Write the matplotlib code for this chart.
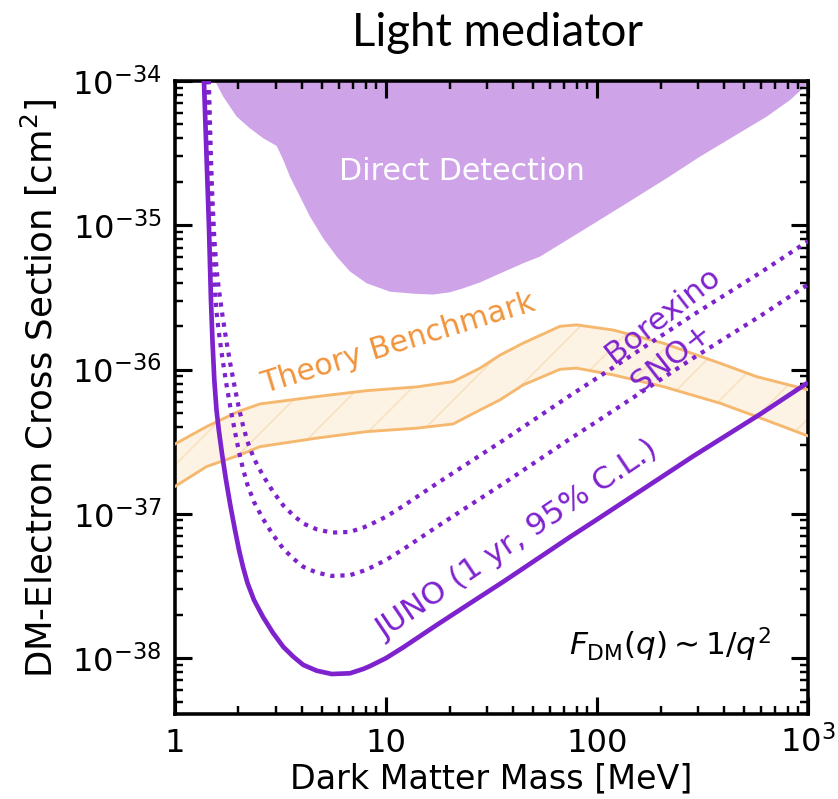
import numpy as np
import matplotlib
matplotlib.use("Agg")
import matplotlib.pyplot as plt
from matplotlib.ticker import FixedLocator, FixedFormatter, LogLocator, NullFormatter

# ---------------- data (log10 of cross section in cm^2) ----------------
mass = [1.365, 1.413, 1.449, 1.481, 1.505, 1.536, 1.573, 1.613, 1.674, 1.745, 1.828,
        1.925, 2.011, 2.101, 2.206, 2.368, 2.612, 2.914, 3.262, 3.637, 4.056, 4.695,
        5.53, 6.75, 7.80, 8.40, 10.0, 12.08, 17.4, 25.0, 36.0, 51.8, 74.5, 99.7,
        286, 592, 1000]
juno_log = [-33.90, -34.547, -35.01, -35.518, -35.795, -36.072, -36.28, -36.419,
            -36.592, -36.765, -36.938, -37.112, -37.25, -37.368, -37.479, -37.597,
            -37.714, -37.825, -37.922, -37.99, -38.047, -38.087, -38.11, -38.105,
            -38.075, -38.055, -38.00, -37.925, -37.77, -37.62, -37.47, -37.315,
            -37.16, -37.04, -36.60, -36.31, -36.09]
borexino_log = [-32.92, -33.567, -34.03, -34.538, -34.815, -35.092, -35.30, -35.439,
                -35.612, -35.785, -35.958, -36.132, -36.27, -36.388, -36.499, -36.617,
                -36.734, -36.845, -36.942, -37.01, -37.067, -37.107, -37.13, -37.125,
                -37.095, -37.075, -37.02, -36.945, -36.79, -36.64, -36.49, -36.335,
                -36.18, -36.06, -35.62, -35.33, -35.11]
snoplus_log = [-33.22, -33.867, -34.33, -34.838, -35.115, -35.392, -35.60, -35.739,
               -35.912, -36.085, -36.258, -36.432, -36.57, -36.688, -36.799, -36.917,
               -37.034, -37.145, -37.242, -37.31, -37.367, -37.407, -37.43, -37.425,
               -37.395, -37.375, -37.32, -37.245, -37.09, -36.94, -36.79, -36.635,
               -36.48, -36.36, -35.92, -35.63, -35.41]

dd_mass = [1.548, 1.694, 1.961, 2.267, 2.621, 3.034, 3.26, 3.508, 3.91, 4.364, 5.04,
           5.84, 6.75, 8.10, 10.45, 13.5, 16.7, 20.0, 23.2, 28.0, 33.5, 44.7, 53.7,
           86.1, 138, 214, 307, 442, 637, 822, 947, 1000]
dd_log = [-34.0, -34.109, -34.247, -34.328, -34.397, -34.45, -34.547, -34.663, -34.80,
          -34.94, -35.09, -35.217, -35.32, -35.402, -35.46, -35.474, -35.48, -35.465,
          -35.437, -35.395, -35.344, -35.263, -35.217, -35.033, -34.848, -34.674,
          -34.525, -34.386, -34.247, -34.132, -34.05, -34.02]

tb_mass = [1, 1.413, 2.0, 2.53, 4.70, 8.10, 14.0, 20.8, 27.9, 34.7, 44.6, 66.8, 80.1,
           119.5, 206, 383, 571, 1000]
tb_low_log = [-36.81, -36.672, -36.595, -36.534, -36.475, -36.43, -36.406, -36.377,
              -36.28, -36.21, -36.107, -35.998, -35.99, -36.037, -36.118, -36.233,
              -36.326, -36.46]
tb_high_log = [-36.516, -36.395, -36.29, -36.238, -36.187, -36.146, -36.12, -36.083,
               -35.99, -35.90, -35.817, -35.70, -35.69, -35.726, -35.817, -35.956,
               -36.049, -36.14]

x_ticks = [1, 10, 100, 1000]
x_tick_labels = ["1", "10", "100", r"$10^3$"]
y_ticks = [1e-38, 1e-37, 1e-36, 1e-35, 1e-34]

# ---------------- styling ----------------
purple = "#7E22CE"
dd_color = "#CFA3E8"
tb_edge = "#F5B86E"
tb_fill = "#FDF3E4"
tb_hatch = "#F8E2C4"
tb_text = "#F0943C"


def pw(v):
    return 10.0 ** np.asarray(v)


fig = plt.figure(figsize=(838 / 160, 799 / 160), dpi=160)
ax = fig.add_axes([0.2088, 0.1064, 0.7554, 0.7922])
ax.set_xscale("log")
ax.set_yscale("log")
ax.set_xlim(1, 1000)
ax.set_ylim(10 ** -38.387, 1e-34)

# direct detection exclusion
ax.fill_between(dd_mass, pw(dd_log), 1e-33, facecolor=dd_color, edgecolor="none",
                lw=0, zorder=1)

# theory benchmark band
plt.rcParams["hatch.linewidth"] = 0.8
ax.fill_between(tb_mass, pw(tb_low_log), pw(tb_high_log), facecolor=tb_fill,
                edgecolor=tb_hatch, hatch="/", lw=0, zorder=2)
ax.plot(tb_mass, pw(tb_low_log), color=tb_edge, lw=1.3, zorder=3)
ax.plot(tb_mass, pw(tb_high_log), color=tb_edge, lw=1.3, zorder=3)

# experimental sensitivities
ax.plot(mass, pw(borexino_log), color=purple, lw=1.9, ls=(0, (1, 1.4)), zorder=4)
ax.plot(mass, pw(snoplus_log), color=purple, lw=1.9, ls=(0, (1, 1.4)), zorder=4)
ax.plot(mass, pw(juno_log), color=purple, lw=2.1, solid_capstyle="butt",
        solid_joinstyle="round", zorder=5)

# annotations
ax.text(22.9, 10 ** -34.63, "Direct Detection", color="white", fontsize=13.5,
        ha="center", va="center", zorder=6)
ax.text(11.4, 10 ** -35.82, "Theory Benchmark", color=tb_text, fontsize=13.5,
        ha="center", va="center", rotation=17, rotation_mode="anchor", zorder=6)
ax.text(205, 10 ** -35.62, "Borexino", color=purple, fontsize=14,
        ha="center", va="center", rotation=38, rotation_mode="anchor", zorder=6)
ax.text(226, 10 ** -35.92, "SNO+", color=purple, fontsize=14,
        ha="center", va="center", rotation=38, rotation_mode="anchor", zorder=6)
ax.text(42.2, 10 ** -37.18, "JUNO (1 yr, 95% C.L.)", color=purple, fontsize=14,
        ha="center", va="center", rotation=34, rotation_mode="anchor", zorder=6)
ax.text(222, 10 ** -37.91, r"$F_{\rm DM}(q) \sim 1/q^2$", color="black", fontsize=14,
        ha="center", va="center", zorder=6)

# axes, ticks and labels
ax.xaxis.set_major_locator(FixedLocator(x_ticks))
ax.xaxis.set_major_formatter(FixedFormatter(x_tick_labels))
ax.xaxis.set_minor_locator(LogLocator(base=10, subs=np.arange(2, 10), numticks=100))
ax.xaxis.set_minor_formatter(NullFormatter())
ax.yaxis.set_major_locator(FixedLocator(y_ticks))
ax.yaxis.set_minor_locator(LogLocator(base=10, subs=np.arange(2, 10), numticks=100))
ax.yaxis.set_minor_formatter(NullFormatter())

ax.tick_params(which="both", direction="in", top=True, right=True, labelsize=14.5)
ax.tick_params(which="major", length=7.7, width=1.4)
ax.tick_params(which="minor", length=3.5, width=1.1)
ax.tick_params(axis="x", which="major", pad=17)
ax.tick_params(axis="y", which="major", pad=6)
for lbl in ax.get_xticklabels():
    lbl.set_verticalalignment("baseline")
for sp in ax.spines.values():
    sp.set_linewidth(1.6)

ax.set_xlabel("Dark Matter Mass [MeV]", fontsize=15)
ax.set_ylabel(r"DM-Electron Cross Section [cm$^2$]", fontsize=16)
ax.xaxis.set_label_coords(0.5, -0.076)
ax.yaxis.set_label_coords(-0.182, 0.514)

ax.text(0.509, 1.055, "Light mediator", transform=ax.transAxes, fontsize=20.5,
        family=["Lato", "DejaVu Sans"], ha="center", va="baseline")

fig.savefig("out.png", dpi=160)
